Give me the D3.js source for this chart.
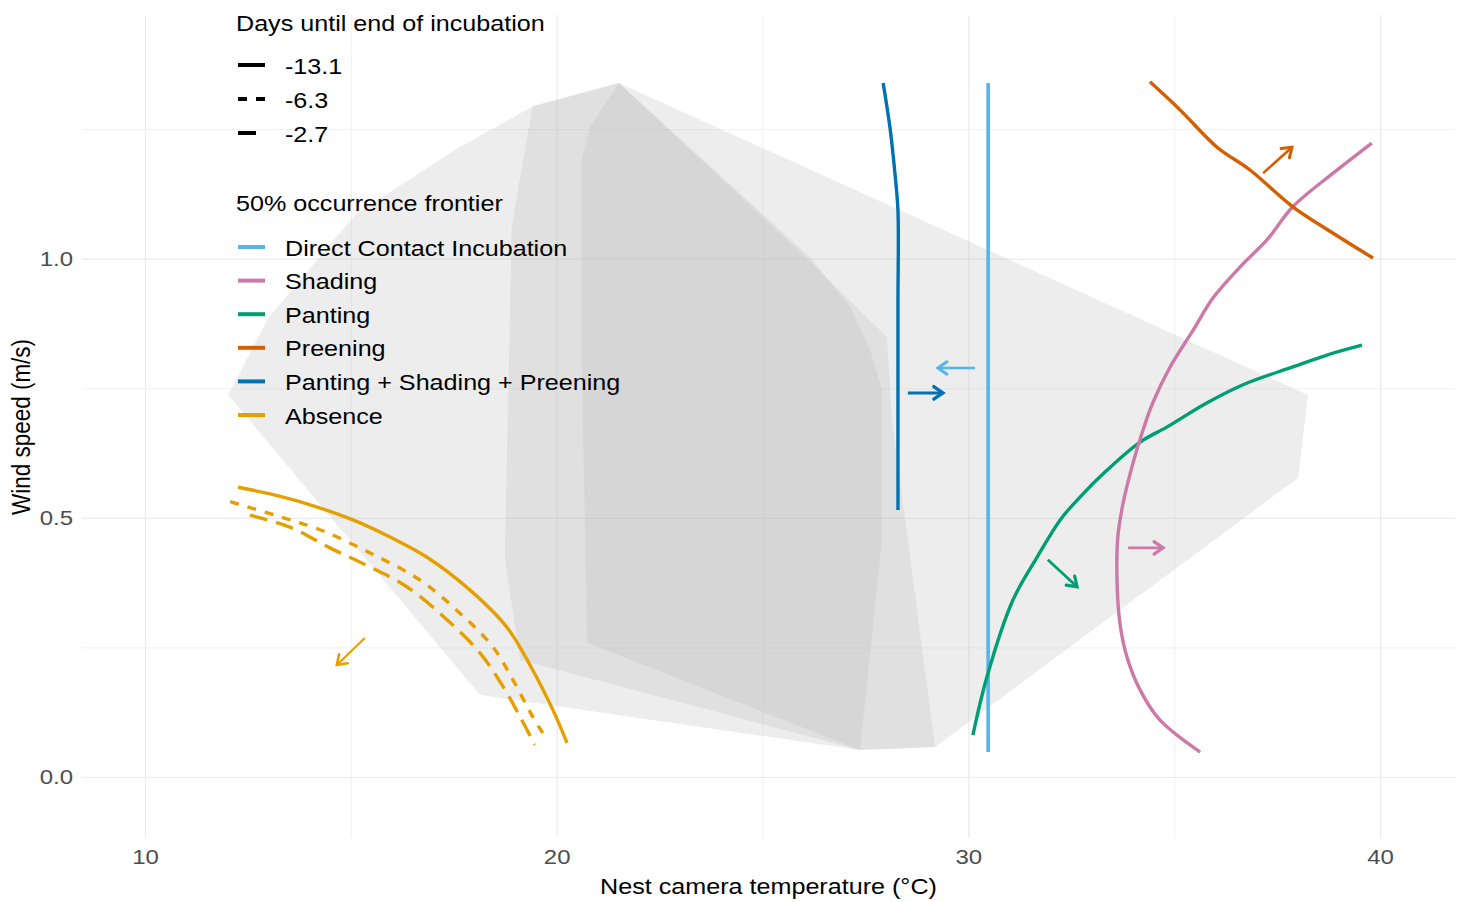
<!DOCTYPE html>
<html>
<head>
<meta charset="utf-8">
<script src="https://cdn.jsdelivr.net/npm/d3@7"></script>
<style>
  html, body { margin: 0; padding: 0; background: #ffffff; }
  svg { display: block; }
  text { font-family: "Liberation Sans", Arial, sans-serif; }
</style>
</head>
<body>
<svg id="chart" width="1463" height="902"></svg>
<script>
// ---------------- DATA ----------------
const xMajorTicks = [10, 20, 30, 40];
const xMinorTicks = [15, 25, 35];
const yMajorTicks = [0.0, 0.5, 1.0];
const yMinorTicks = [0.25, 0.75, 1.25];

const xTitle = "Nest camera temperature (°C)";
const yTitle = "Wind speed (m/s)";

const dayTitle = "Days until end of incubation";
const dayLabels = ["-13.1", "-6.3", "-2.7"];

const frontierTitle = "50% occurrence frontier";
const behaviours = ["Direct Contact Incubation", "Shading", "Panting", "Preening",
                    "Panting + Shading + Preening", "Absence"];

// Observed-condition envelopes (convex hulls), [temperature, wind]
const hullA = [[12.02,0.737],[12.99,0.885],[15.10,1.084],[17.53,1.210],[19.42,1.294],[21.51,1.339],
               [38.25,0.737],[38.01,0.577],[29.19,0.058],[27.37,0.052],[18.14,0.158]];
const hullB = [[19.42,1.294],[21.51,1.339],[25.91,1.013],[28.02,0.849],[28.14,0.692],[29.19,0.058],
               [27.37,0.052],[19.11,0.226],[18.94,0.316],[18.74,0.424],[18.91,1.061],[19.11,1.157]];
const hullC = [[21.51,1.339],[26.15,1.003],[27.12,0.907],[27.61,0.824],[27.90,0.747],[27.90,0.457],
               [27.37,0.052],[20.74,0.259],[20.61,0.804],[20.61,1.190],[20.81,1.254]];

// 50% occurrence frontiers
const dciFrontier = [[30.48,0.048],[30.48,0.500],[30.48,1.000],[30.48,1.339]];
const shadingFrontier = [[35.63,0.048],[34.65,0.110],[34.17,0.168],[33.85,0.232],[33.68,0.297],[33.61,0.380],
                         [33.63,0.463],[33.76,0.529],[34.00,0.606],[34.22,0.664],[34.48,0.722],[34.90,0.791],
                         [35.46,0.862],[35.94,0.924],[36.60,0.984],[37.25,1.036],[37.88,1.100],[38.86,1.165],[39.80,1.223]];
const pantingFrontier = [[30.11,0.081],[30.45,0.193],[31.08,0.341],[31.67,0.424],[32.23,0.496],[32.71,0.540],
                         [33.37,0.592],[34.17,0.646],[34.82,0.675],[35.80,0.722],[36.77,0.760],[37.88,0.791],
                         [38.71,0.814],[39.56,0.833]];
const preeningFrontier = [[34.41,1.341],[35.14,1.287],[36.04,1.215],[36.84,1.171],[37.88,1.100],[38.86,1.049],[39.83,1.001]];
const pspFrontier = [[27.93,1.339],[28.10,1.250],[28.22,1.161],[28.29,1.092],[28.29,0.920],[28.29,0.727],[28.29,0.515]];
const absenceDay13 = [[12.26,0.559],[13.04,0.546],[14.01,0.525],[15.05,0.496],[15.95,0.463],[16.85,0.424],
                      [17.89,0.361],[18.79,0.289],[19.42,0.206],[19.91,0.129],[20.25,0.066]];
const absenceDay6 = [[12.07,0.531],[13.16,0.505],[14.25,0.477],[15.47,0.432],[16.68,0.380],[17.65,0.316],
                     [18.45,0.251],[18.94,0.187],[19.42,0.116],[19.69,0.081]];
const absenceDay2 = [[12.55,0.505],[13.52,0.482],[14.49,0.442],[15.47,0.405],[16.36,0.367],[17.34,0.303],
                     [18.14,0.239],[18.70,0.174],[19.11,0.116],[19.47,0.062]];

// direction arrows [x1, y1, x2, y2]
const arrowAbsence = [15.34, 0.268, 14.66, 0.216];
const arrowDci = [30.16, 0.789, 29.26, 0.789];
const arrowPsp = [28.53, 0.741, 29.38, 0.741];
const arrowPanting = [31.93, 0.419, 32.64, 0.367];
const arrowShading = [33.88, 0.442, 34.73, 0.442];
const arrowPreening = [37.16, 1.165, 37.86, 1.215];

// ---------------- STYLE ----------------
const behaviourColour = {
  "Direct Contact Incubation": "#56B4E9",
  "Shading": "#CC79A7",
  "Panting": "#009E73",
  "Preening": "#D55E00",
  "Panting + Shading + Preening": "#0072B2",
  "Absence": "#E69F00"
};
const dayDash = { "-13.1": null, "-6.3": "9,9", "-2.7": "18,9" };
const SX = 1.17;           // horizontal stretch of the original raster
const FS = 21.5;           // text size
const FS_TICK = 20.5;

const svg = d3.select("#chart");
const PL = 82, PR = 1455, PT = 15, PB = 838;
const x = d3.scaleLinear().domain([8.47, 41.82]).range([PL, PR]);
const y = d3.scaleLinear().domain([-0.1177, 1.470]).range([PB, PT]);

// ---------------- GRID ----------------
function grid(axisGen, vals, transform, width) {
  const g = svg.append("g").attr("transform", transform)
    .call(axisGen.tickValues(vals).tickFormat(""));
  g.select(".domain").remove();
  g.selectAll(".tick line").attr("stroke", "#EBEBEB").attr("stroke-width", width);
  return g;
}
grid(d3.axisBottom(x).tickSize(-(PB - PT)), xMinorTicks, `translate(0,${PB})`, 0.7);
grid(d3.axisLeft(y).tickSize(-(PR - PL)), yMinorTicks, `translate(${PL},0)`, 0.7);
grid(d3.axisBottom(x).tickSize(-(PB - PT)), xMajorTicks, `translate(0,${PB})`, 1.2);
grid(d3.axisLeft(y).tickSize(-(PR - PL)), yMajorTicks, `translate(${PL},0)`, 1.2);

// ---------------- HULLS ----------------
const hullLine = d3.line().x(d => x(d[0])).y(d => y(d[1]));
[hullA, hullB, hullC].forEach(h => {
  svg.append("path").attr("d", hullLine(h) + "Z")
    .attr("fill", "#bebebe").attr("fill-opacity", 0.27).attr("stroke", "none");
});

// ---------------- FRONTIERS ----------------
const series = [
  { b: "Direct Contact Incubation", day: "-13.1", pts: dciFrontier, w: 3.6 },
  { b: "Panting + Shading + Preening", day: "-13.1", pts: pspFrontier, w: 3.4 },
  { b: "Panting", day: "-13.1", pts: pantingFrontier, w: 3.4 },
  { b: "Shading", day: "-13.1", pts: shadingFrontier, w: 3.4 },
  { b: "Preening", day: "-13.1", pts: preeningFrontier, w: 3.4 },
  { b: "Absence", day: "-13.1", pts: absenceDay13, w: 3.4 },
  { b: "Absence", day: "-6.3", pts: absenceDay6, w: 3.4 },
  { b: "Absence", day: "-2.7", pts: absenceDay2, w: 3.4 }
];
const line = d3.line().x(d => x(d[0])).y(d => y(d[1])).curve(d3.curveCatmullRom.alpha(0.5));
series.forEach(s => {
  svg.append("path").attr("d", line(s.pts))
    .attr("fill", "none").attr("stroke", behaviourColour[s.b])
    .attr("stroke-width", s.w).attr("stroke-linejoin", "round")
    .attr("stroke-dasharray", dayDash[s.day]);
});

// ---------------- ARROWS ----------------
const arrows = [
  { b: "Absence", a: arrowAbsence, w: 2.2 },
  { b: "Direct Contact Incubation", a: arrowDci, w: 2.6 },
  { b: "Panting + Shading + Preening", a: arrowPsp, w: 3 },
  { b: "Panting", a: arrowPanting, w: 2.8 },
  { b: "Shading", a: arrowShading, w: 2.8 },
  { b: "Preening", a: arrowPreening, w: 2.6 }
];
arrows.forEach(o => {
  const x1 = x(o.a[0]), y1 = y(o.a[1]), x2 = x(o.a[2]), y2 = y(o.a[3]);
  const ang = Math.atan2(y2 - y1, x2 - x1);
  const L = 11, spread = Math.PI / 5.2;
  const h1 = [x2 - L * Math.cos(ang - spread), y2 - L * Math.sin(ang - spread)];
  const h2 = [x2 - L * Math.cos(ang + spread), y2 - L * Math.sin(ang + spread)];
  const col = behaviourColour[o.b];
  svg.append("line").attr("x1", x1).attr("y1", y1).attr("x2", x2).attr("y2", y2)
    .attr("stroke", col).attr("stroke-width", o.w);
  svg.append("path").attr("d", `M${h1[0]},${h1[1]}L${x2},${y2}L${h2[0]},${h2[1]}`)
    .attr("fill", "none").attr("stroke", col).attr("stroke-width", o.w + 0.4)
    .attr("stroke-linejoin", "miter").attr("stroke-linecap", "round");
});

// ---------------- AXES LABELS ----------------
const xLab = svg.append("g").attr("transform", `translate(0,${PB})`)
  .call(d3.axisBottom(x).tickValues(xMajorTicks).tickSize(0).tickPadding(11).tickFormat(d3.format("d")));
xLab.select(".domain").remove();
xLab.selectAll("text").attr("fill", "#4D4D4D").style("font-size", FS_TICK + "px")
  .style("font-family", "'Liberation Sans', Arial, sans-serif")
  .attr("transform", `scale(${SX},1)`);

const yLab = svg.append("g").attr("transform", `translate(${PL},0)`)
  .call(d3.axisLeft(y).tickValues(yMajorTicks).tickSize(0).tickPadding(0).tickFormat(d3.format(".1f")));
yLab.select(".domain").remove();
yLab.selectAll("text").attr("fill", "#4D4D4D").style("font-size", FS_TICK + "px")
  .style("font-family", "'Liberation Sans', Arial, sans-serif")
  .attr("x", -9 / SX).attr("transform", `scale(${SX},1)`);

function txt(px, py, s, anchor, size, extra) {
  return svg.append("text")
    .attr("transform", `translate(${px},${py}) scale(${SX},1)` + (extra || ""))
    .attr("text-anchor", anchor).style("font-size", size + "px")
    .attr("fill", "#000").text(s);
}
txt((PL + PR) / 2, 894, xTitle, "middle", FS);
txt(30, 427, yTitle, "middle", 22.5, " rotate(-90)");

// ---------------- LEGEND ----------------
txt(236, 31, dayTitle, "start", FS);
dayLabels.forEach((d, i) => {
  const cy = 65 + i * 34;
  svg.append("line").attr("x1", 238).attr("x2", 265).attr("y1", cy).attr("y2", cy)
    .attr("stroke", "#000").attr("stroke-width", 4).attr("stroke-dasharray", dayDash[d]);
  txt(285, cy + 8.5, d, "start", FS);
});
txt(236, 211, frontierTitle, "start", FS);
behaviours.forEach((b, i) => {
  const cy = 247 + i * 33.6;
  svg.append("line").attr("x1", 238).attr("x2", 265).attr("y1", cy).attr("y2", cy)
    .attr("stroke", behaviourColour[b]).attr("stroke-width", 4);
  txt(285, cy + 8.5, b, "start", FS);
});
</script>
</body>
</html>
